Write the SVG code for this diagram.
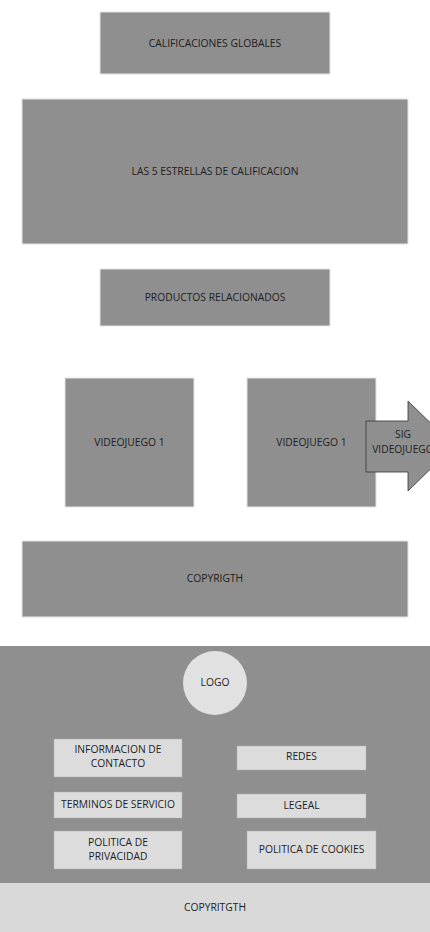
<svg xmlns="http://www.w3.org/2000/svg" width="430" height="932" viewBox="0 0 430 932">
<style>
.d{fill:#8f8f8f;stroke:#e4e4e4;stroke-width:1}
.l{fill:#dcdcdc;stroke:#b0b0b0;stroke-width:0.5}
text{font-family:"Open Sans","Liberation Sans",sans-serif;font-size:10.3px;fill:#1e1e1e;text-anchor:middle;dominant-baseline:central}
</style>
<rect x="0" y="0" width="430" height="932" fill="#ffffff"/>
<g id="calificaciones"><rect class="d" x="100" y="12" width="230" height="62"/><text x="215" y="43">CALIFICACIONES GLOBALES</text></g>
<g id="estrellas"><rect class="d" x="22" y="99" width="386" height="145"/><text x="215" y="171">LAS 5 ESTRELLAS DE CALIFICACION</text></g>
<g id="productos"><rect class="d" x="100" y="269" width="230" height="57"/><text x="215" y="297">PRODUCTOS RELACIONADOS</text></g>
<g id="videojuego1"><rect class="d" x="65" y="378" width="129" height="129"/><text x="129.5" y="442">VIDEOJUEGO 1</text></g>
<g id="videojuego2"><rect class="d" x="247" y="378" width="129" height="129"/><text x="311.5" y="442">VIDEOJUEGO 1</text></g>
<g id="sig"><polygon points="366,421 408,421 408,401 454,446 408,491 408,472 366,472" fill="#8f8f8f" stroke="#333" stroke-width="0.8"/><text x="403" y="434">SIG</text><text x="403" y="449">VIDEOJUEGO</text></g>
<g id="copyright1"><rect class="d" x="22" y="541" width="386" height="76"/><text x="215" y="578">COPYRIGTH</text></g>
<g id="footer"><rect x="0" y="646" width="430" height="238" fill="#8f8f8f"/></g>
<g id="logo"><circle cx="215" cy="683" r="32" fill="#e1e1e1"/><text x="215" y="682">LOGO</text></g>
<g id="contacto"><rect class="l" x="54" y="739" width="128" height="38"/><text x="118" y="749">INFORMACION DE</text><text x="118" y="763">CONTACTO</text></g>
<g id="redes"><rect class="l" x="237" y="746" width="129" height="24"/><text x="301.5" y="756">REDES</text></g>
<g id="terminos"><rect class="l" x="54" y="792" width="128" height="26"/><text x="118" y="804">TERMINOS DE SERVICIO</text></g>
<g id="legeal"><rect class="l" x="237" y="794" width="129" height="24"/><text x="301.5" y="805">LEGEAL</text></g>
<g id="privacidad"><rect class="l" x="54" y="831" width="128" height="38"/><text x="118" y="842">POLITICA DE</text><text x="118" y="856">PRIVACIDAD</text></g>
<g id="cookies"><rect class="l" x="247" y="831" width="129" height="38"/><text x="311.5" y="849">POLITICA DE COOKIES</text></g>
<g id="copyright2"><rect x="0" y="883" width="430" height="49" fill="#d9d9d9"/><text x="215" y="907">COPYRITGTH</text></g>
<g id="connectors"/>
</svg>
